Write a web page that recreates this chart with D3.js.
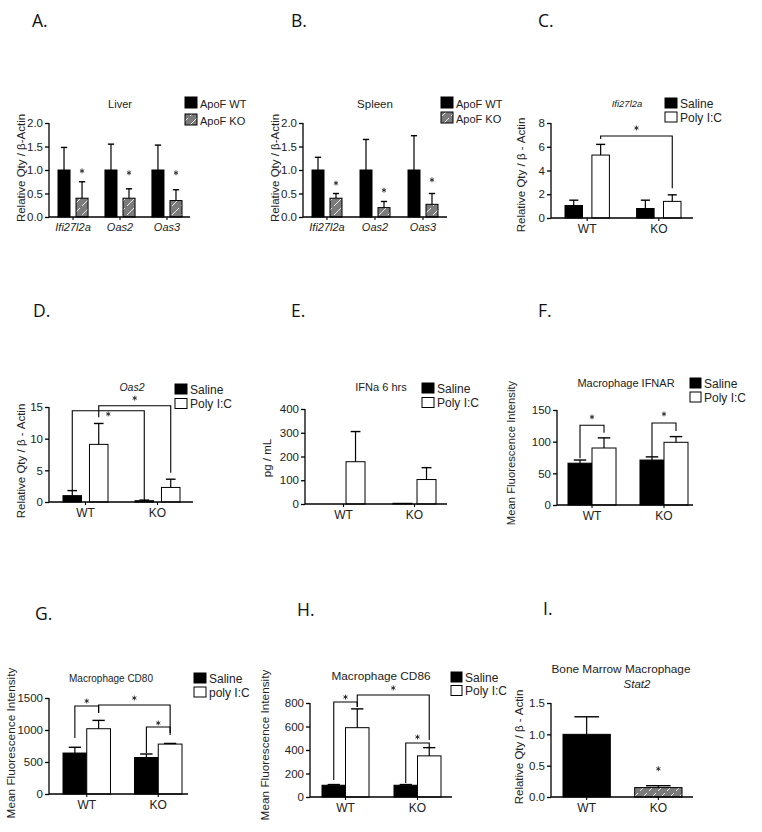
<!DOCTYPE html>
<html><head><meta charset="utf-8">
<script src="https://cdn.jsdelivr.net/npm/d3@7"></script>
<style>body{margin:0;background:#fff}svg{display:block}</style>
</head><body><svg id="c" width="762" height="832"></svg>
<script>
// ---------------- DATA ----------------
const genes = ["Ifi27l2a", "Oas2", "Oas3"];
const groups = ["WT", "KO"];
// Panel A – Liver
const liverWT = [1.0, 1.0, 1.0];
const liverWTErr = [1.48, 1.55, 1.53];
const liverKO = [0.40, 0.40, 0.35];
const liverKOErr = [0.75, 0.60, 0.58];
const liverStars = [0.98, 0.94, 0.94];
// Panel B – Spleen
const spleenWT = [1.0, 1.0, 1.0];
const spleenWTErr = [1.27, 1.65, 1.73];
const spleenKO = [0.40, 0.20, 0.27];
const spleenKOErr = [0.50, 0.33, 0.50];
const spleenStars = [0.72, 0.57, 0.79];
// Panel C – Ifi27l2a
const ifiSaline = [1.05, 0.80];
const ifiSalineErr = [1.50, 1.50];
const ifiPoly = [5.30, 1.40];
const ifiPolyErr = [6.20, 1.95];
// Panel D – Oas2
const oasSaline = [1.0, 0.2];
const oasSalineErr = [1.8, 0.3];
const oasPoly = [9.1, 2.3];
const oasPolyErr = [12.4, 3.6];
// Panel E – IFNa 6 hrs
const ifnSaline = [0, 3];
const ifnSalineErr = [0, 3];
const ifnPoly = [178, 103];
const ifnPolyErr = [305, 153];
// Panel F – Macrophage IFNAR
const ifnarSaline = [66, 71];
const ifnarSalineErr = [71, 76];
const ifnarPoly = [90, 99];
const ifnarPolyErr = [106, 108];
// Panel G – Macrophage CD80
const cd80Saline = [640, 570];
const cd80SalineErr = [730, 625];
const cd80Poly = [1020, 780];
const cd80PolyErr = [1150, 790];
// Panel H – Macrophage CD86
const cd86Saline = [100, 100];
const cd86SalineErr = [106, 106];
const cd86Poly = [590, 350];
const cd86PolyErr = [750, 420];
// Panel I – Stat2
const stat2 = [1.0, 0.15];
const stat2Err = [1.28, 0.18];
const stat2Stars = [null, 0.45];
const stat2Fills = ["black", "hatch"];
// Y tick values
const ticksRel2 = [0, 0.5, 1.0, 1.5, 2.0];
const ticksC = [0, 2, 4, 6, 8];
const ticksD = [0, 5, 10, 15];
const ticksE = [0, 100, 200, 300, 400];
const ticksF = [0, 50, 100, 150];
const ticksG = [0, 500, 1000, 1500];
const ticksH = [0, 200, 400, 600, 800];
const ticksI = [0, 0.5, 1.0, 1.5];
// Significance brackets: [group1, series1, group2, series2, top, leftEnd, rightEnd, starValue]
const bracketsC = [[0, 1, 1, 1, 6.9, 6.65, 2.5, 7.58]];
const bracketsD = [[0, 0, 1, 0, 14.4, 1.9, 0.3, 13.9], [0, 1, 1, 1, 15.2, 13.4, 4.6, 16.4]];
const bracketsF = [[0, 0, 0, 1, 126, 74, 114, 139], [1, 0, 1, 1, 129.5, 76, 117, 143.7]];
const bracketsG = [[0, 0, 0, 1, 1375, 875, 1265, 1453], [0, 1, 1, 1, 1390, 1265, 920, 1500], [1, 0, 1, 1, 1047, 640, 953, 1109]];
const bracketsH = [[0, 0, 0, 1, 808, 145, 766, 851], [0, 1, 1, 1, 868, 766, 485, 928], [1, 0, 1, 1, 460, 120, 417, 511]];

// ---------------- DRAWING ----------------
const svg = d3.select("#c");
const FONT = "'Liberation Sans', Arial, sans-serif";
const defs = svg.append("defs");
const pat = defs.append("pattern").attr("id", "hatch").attr("patternUnits", "userSpaceOnUse")
  .attr("width", 9).attr("height", 9);
pat.append("rect").attr("width", 9).attr("height", 9).attr("fill", "#7b7b7b");
pat.append("path").attr("d", "M1,8 L8,1").attr("stroke", "#e8e8e8").attr("stroke-width", 1);

const starPath = d3.symbol(d3.symbolAsterisk, 16)();
function star(g, xx, yy) {
  g.append("path").attr("d", starPath).attr("transform", `translate(${xx},${yy})`)
    .attr("fill", "none").attr("stroke", "#222").attr("stroke-width", 0.9);
}

function fillOf(kind) {
  return kind === "black" ? "#000" : kind === "white" ? "#fff" : "url(#hatch)";
}

function drawPanel(p) {
  const g = svg.append("g");
  g.append("text").attr("x", p.letter[1]).attr("y", p.letter[2]).text(p.letter[0])
    .attr("font-family", "'Open Sans', 'Noto Sans', sans-serif").attr("font-size", 17.5).attr("fill", "#111");

  const y = d3.scaleLinear().domain(p.yDomain).range([p.axis.y0, p.axis.y1]);
  const x = d3.scaleBand().domain(p.categories).range(p.groupRange).paddingInner(p.pi).paddingOuter(0);
  const xs = d3.scaleBand().domain(d3.range(p.series.length)).range([0, x.bandwidth()])
    .paddingInner(p.innerPi).paddingOuter(0);
  const cx = (gi, si) => x(p.categories[gi]) + xs(si) + xs.bandwidth() / 2;
  const capHalf = Math.min(xs.bandwidth() * 0.26, 12.5);

  p.series.forEach((s, si) => {
    g.selectAll(null).data(s.values).enter().append("rect")
      .attr("x", (d, i) => x(p.categories[i]) + xs(si))
      .attr("width", xs.bandwidth())
      .attr("y", d => y(d))
      .attr("height", d => y(0) - y(d))
      .attr("fill", (d, i) => fillOf(s.fills ? s.fills[i] : s.fill))
      .attr("stroke", "#000").attr("stroke-width", 1);
    s.values.forEach((v, i) => {
      const e = s.errs[i];
      if (e <= v) return;
      const c = cx(i, si);
      g.append("line").attr("x1", c).attr("x2", c).attr("y1", y(v)).attr("y2", y(e))
        .attr("stroke", "#000").attr("stroke-width", 1.2);
      g.append("line").attr("x1", c - capHalf).attr("x2", c + capHalf).attr("y1", y(e)).attr("y2", y(e))
        .attr("stroke", "#000").attr("stroke-width", 1.4);
    });
    if (s.stars) s.stars.forEach((v, i) => {
      if (v == null) return;
      star(g, cx(i, si), y(v));
    });
  });

  (p.brackets || []).forEach(b => {
    const x1 = cx(b[0], b[1]), x2 = cx(b[2], b[3]);
    g.append("path")
      .attr("d", `M${x1},${y(b[5])}V${y(b[4])}H${x2}V${y(b[6])}`)
      .attr("fill", "none").attr("stroke", "#000").attr("stroke-width", 1.1);
    star(g, (x1 + x2) / 2, y(b[7]));
  });

  const ya = g.append("g").attr("transform", `translate(${p.axis.x0},0)`)
    .call(d3.axisLeft(y).tickValues(p.ticks).tickFormat(d3.format(p.fmt)).tickSize(4).tickPadding(2));
  ya.select(".domain").attr("d", `M0,${p.axis.y0}V${p.axis.y1}`).attr("stroke-width", 1.3);
  ya.selectAll("line").attr("stroke-width", 1.3);
  ya.selectAll("text").attr("font-family", FONT).attr("font-size", 11.5).attr("fill", "#222");

  const xa = g.append("g").attr("transform", `translate(0,${p.axis.y0})`)
    .call(d3.axisBottom(x).tickSize(3).tickPadding(3));
  xa.select(".domain").attr("d", `M${p.axis.x0},0H${p.axis.x1}`).attr("stroke-width", 1.3);
  xa.selectAll("line").attr("stroke-width", 1.1);
  xa.selectAll("text").attr("font-family", FONT).attr("font-size", p.xFont || 12).attr("fill", "#222")
    .attr("font-style", p.xItalic ? "italic" : "normal");

  g.append("text").attr("transform", `translate(${p.yTitle[1]},${p.yTitle[2]}) rotate(-90)`)
    .attr("text-anchor", "middle").attr("font-family", FONT).attr("font-size", p.yTitle[3])
    .attr("fill", "#222").text(p.yTitle[0]);

  p.titles.forEach(t => {
    g.append("text").attr("x", t.x).attr("y", t.y).attr("text-anchor", "middle")
      .attr("font-family", FONT).attr("font-size", t.size).attr("font-style", t.italic ? "italic" : "normal")
      .attr("fill", "#222").text(t.text);
  });

  const L = p.legend;
  if (L) p.series.forEach((s, si) => {
    const yy = L.y + si * L.dy;
    g.append("rect").attr("x", L.x).attr("y", yy).attr("width", L.w).attr("height", L.h)
      .attr("fill", fillOf(s.fill)).attr("stroke", "#000").attr("stroke-width", 1);
    g.append("text").attr("x", L.x + L.w + 3).attr("y", yy + L.h - 0.5)
      .attr("font-family", FONT).attr("font-size", L.size).attr("fill", "#222").text(s.name);
  });
}

const relTitle = "Relative Qty  / β-Actin";
const relTitle2 = "Relative Qty / β - Actin";
const mfi = "Mean Fluorescence Intensity";

const panels = [
  { letter: ["A.", 32, 27], categories: genes, yDomain: [0, 2], ticks: ticksRel2, fmt: ".1f",
    axis: { x0: 49, x1: 190, y0: 217, y1: 123 }, groupRange: [58, 182], pi: 0.36, innerPi: 0.333,
    xItalic: true, xFont: 11,
    series: [{ name: "ApoF WT", values: liverWT, errs: liverWTErr, fill: "black" },
             { name: "ApoF KO", values: liverKO, errs: liverKOErr, fill: "hatch", stars: liverStars }],
    yTitle: [relTitle, 25, 168, 11.5], titles: [{ text: "Liver", x: 120, y: 108, size: 11 }],
    legend: { x: 185, y: 97, dy: 17, w: 12, h: 11, size: 11 } },
  { letter: ["B.", 291, 27], categories: genes, yDomain: [0, 2], ticks: ticksRel2, fmt: ".1f",
    axis: { x0: 303, x1: 447, y0: 217, y1: 123 }, groupRange: [312, 438], pi: 0.375, innerPi: 0.333,
    xItalic: true, xFont: 11,
    series: [{ name: "ApoF WT", values: spleenWT, errs: spleenWTErr, fill: "black" },
             { name: "ApoF KO", values: spleenKO, errs: spleenKOErr, fill: "hatch", stars: spleenStars }],
    yTitle: [relTitle, 279, 168, 11.5], titles: [{ text: "Spleen", x: 375, y: 108, size: 11.5 }],
    legend: { x: 441, y: 97, dy: 15, w: 12, h: 11, size: 11 } },
  { letter: ["C.", 538, 27], categories: groups, yDomain: [0, 8], ticks: ticksC, fmt: "d",
    axis: { x0: 551, x1: 693, y0: 218, y1: 123 }, groupRange: [565, 681], pi: 0.38, innerPi: 0.35,
    series: [{ name: "Saline", values: ifiSaline, errs: ifiSalineErr, fill: "black" },
             { name: "Poly I:C", values: ifiPoly, errs: ifiPolyErr, fill: "white" }],
    brackets: bracketsC,
    yTitle: [relTitle2, 525, 175, 11.5], titles: [{ text: "Ifi27l2a", x: 627, y: 107, size: 9.5, italic: true }],
    legend: { x: 665, y: 98, dy: 14, w: 12, h: 10, size: 12 } },
  { letter: ["D.", 33, 317], categories: groups, yDomain: [0, 15], ticks: ticksD, fmt: "d",
    axis: { x0: 49, x1: 193, y0: 502, y1: 407 }, groupRange: [63, 180], pi: 0.375, innerPi: 0.30,
    series: [{ name: "Saline", values: oasSaline, errs: oasSalineErr, fill: "black" },
             { name: "Poly I:C", values: oasPoly, errs: oasPolyErr, fill: "white" }],
    brackets: bracketsD,
    yTitle: [relTitle2, 25, 461, 11.5], titles: [{ text: "Oas2", x: 132, y: 391, size: 10.5, italic: true }],
    legend: { x: 175, y: 384, dy: 14.5, w: 12, h: 10, size: 12 } },
  { letter: ["E.", 291, 317], categories: groups, yDomain: [0, 400], ticks: ticksE, fmt: "d",
    axis: { x0: 305, x1: 447, y0: 504, y1: 409 }, groupRange: [322, 436], pi: 0.394, innerPi: 0.21,
    series: [{ name: "Saline", values: ifnSaline, errs: ifnSalineErr, fill: "black" },
             { name: "Poly I:C", values: ifnPoly, errs: ifnPolyErr, fill: "white" }],
    yTitle: ["pg / mL", 271, 458, 11.5], titles: [{ text: "IFNa 6 hrs", x: 381, y: 391, size: 11 }],
    legend: { x: 422, y: 383, dy: 14.5, w: 12, h: 10, size: 12 } },
  { letter: ["F.", 538, 317], categories: groups, yDomain: [0, 150], ticks: ticksF, fmt: "d",
    axis: { x0: 557, x1: 693, y0: 505, y1: 410 }, groupRange: [568, 688], pi: 0.333, innerPi: 0,
    series: [{ name: "Saline", values: ifnarSaline, errs: ifnarSalineErr, fill: "black" },
             { name: "Poly I:C", values: ifnarPoly, errs: ifnarPolyErr, fill: "white" }],
    brackets: bracketsF,
    yTitle: [mfi, 515, 453, 11.3], titles: [{ text: "Macrophage IFNAR", x: 626, y: 387, size: 11 }],
    legend: { x: 690, y: 378, dy: 14, w: 11, h: 10, size: 12 } },
  { letter: ["G.", 35, 620], categories: groups, yDomain: [0, 1500], ticks: ticksG, fmt: "d",
    axis: { x0: 49, x1: 188, y0: 794, y1: 698 }, groupRange: [63, 182], pi: 0.336, innerPi: 0,
    series: [{ name: "Saline", values: cd80Saline, errs: cd80SalineErr, fill: "black" },
             { name: "poly I:C", values: cd80Poly, errs: cd80PolyErr, fill: "white" }],
    brackets: bracketsG,
    yTitle: [mfi, 15, 743, 11.8], titles: [{ text: "Macrophage CD80", x: 111, y: 682, size: 10 }],
    legend: { x: 194, y: 673, dy: 14, w: 12, h: 10, size: 12 } },
  { letter: ["H.", 297, 616], categories: groups, yDomain: [0, 800], ticks: ticksH, fmt: "d",
    axis: { x0: 310, x1: 452, y0: 797, y1: 703 }, groupRange: [322, 441], pi: 0.347, innerPi: 0,
    series: [{ name: "Saline", values: cd86Saline, errs: cd86SalineErr, fill: "black" },
             { name: "Poly I:C", values: cd86Poly, errs: cd86PolyErr, fill: "white" }],
    brackets: bracketsH,
    yTitle: [mfi, 269, 745, 11.8], titles: [{ text: "Macrophage CD86", x: 381, y: 680, size: 11.8 }],
    legend: { x: 451, y: 672, dy: 13.5, w: 11, h: 10, size: 12 } },
  { letter: ["I.", 543, 615], categories: groups, yDomain: [0, 1.5], ticks: ticksI, fmt: ".1f",
    axis: { x0: 551, x1: 693, y0: 797, y1: 703 }, groupRange: [563, 682], pi: 0.34, innerPi: 0,
    series: [{ name: "", values: stat2, errs: stat2Err, fill: "black", fills: stat2Fills, stars: stat2Stars }],
    yTitle: [relTitle2, 523, 747, 11.5],
    titles: [{ text: "Bone Marrow Macrophage", x: 621, y: 673, size: 11.8 },
             { text: "Stat2", x: 637, y: 688, size: 11.5, italic: true }],
    legend: null }
];

panels.forEach(drawPanel);
</script>
</body></html>
